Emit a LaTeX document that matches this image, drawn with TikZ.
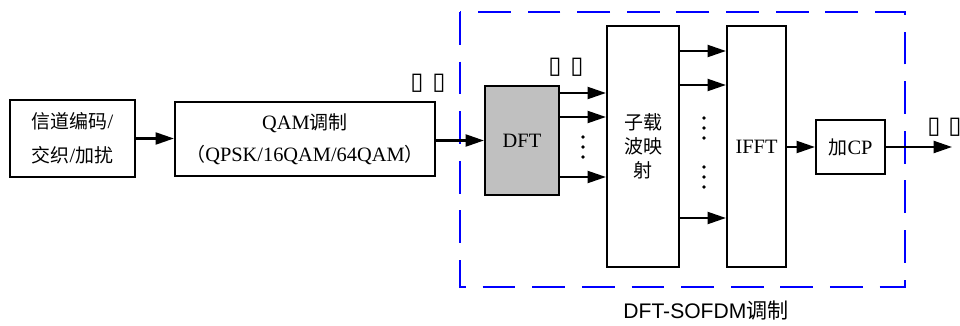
\documentclass[tikz,border=0pt]{standalone}
\usepackage{fontspec}
\usepackage{tikz}
\usetikzlibrary{positioning,arrows.meta,calc}
\setmainfont{Liberation Serif}
\newfontfamily\zhfont{Noto Sans CJK SC}[Scale=0.93]
\newfontfamily\zhsans{Noto Sans CJK SC}
\newfontfamily\lsans{Liberation Sans}
\newfontfamily\tofufont{DejaVu Sans}
\newcommand{\zh}[1]{{\zhfont #1}}
\newcommand{\tofu}{{\tofufont\fontsize{17}{17}\selectfont\char"25AF}}
\definecolor{BlockGray}{RGB}{192,192,192}
\definecolor{GroupBlue}{RGB}{0,0,255}

\begin{document}
\begin{tikzpicture}[x=0.025cm,y=-0.025cm,
blk/.style={draw,line width=1.5pt,align=center,inner sep=0pt,font=\fontsize{14.5}{17}\selectfont},
arr/.style={-{Triangle[length=4.6mm,width=3mm]},line width=1.6pt},
grp/.style={draw=GroupBlue,line width=1.4pt,dash pattern=on 0.82cm off 0.42cm},
lbl/.style={inner sep=0pt}
]
\useasboundingbox (0,0) rectangle (960,326);
% transmitter chain
\node[blk,minimum width=3.125cm,minimum height=1.925cm] (enc) at (72.5,138.5) {\zh{信道编码}/\\[7pt]\zh{交织}/\zh{加扰}};
\node[blk,minimum width=6.5cm,minimum height=1.85cm] (qam) at (305,139) {QAM\zh{调制}\\[6pt]\zh{（}QPSK/16QAM/64QAM\zh{）}};
\node[blk,fill=BlockGray,minimum width=1.85cm,minimum height=2.725cm] (dft) at (522,140.5) {DFT};
\node[blk,minimum width=1.8cm,minimum height=6.025cm] (map) at (643,146.5) {\zh{子载}\\\zh{波映}\\\zh{射}};
\node[blk,minimum width=1.475cm,minimum height=6.025cm] (ifft) at (756.5,146.5) {IFFT};
\node[blk,minimum width=1.725cm,minimum height=1.35cm] (cp) at (850.5,147) {\zh{加}CP};
\coordinate (out) at (952,147);
% DFT-SOFDM group
\draw[grp] (460,12) rectangle (905,287);
\node[font=\fontsize{15}{17}\selectfont] (grplbl) at (706,311) {\lsans DFT-SOFDM{\zhsans 调制}};
% connectors
\draw[arr] (enc) -- (enc.east -| qam.west);
\draw[arr] (qam.east |- dft) -- (dft);
\draw[arr] (dft.east |- 0,93) -- (map.west |- 0,93);
\draw[arr] (dft.east |- 0,117) -- (map.west |- 0,117);
\draw[arr] (dft.east |- 0,177) -- (map.west |- 0,177);
\draw[arr] (map.east |- 0,51) -- (ifft.west |- 0,51);
\draw[arr] (map.east |- 0,85) -- (ifft.west |- 0,85);
\draw[arr] (map.east |- 0,218) -- (ifft.west |- 0,218);
\draw[arr] (ifft.east |- cp) -- (cp);
\draw[arr] (cp) -- (out);
% dots
\foreach \y in {137,147,157} \fill (583,\y) circle (1.8);
\foreach \y in {118,128,138,167,177,187} \fill (704,\y) circle (1.8);
% glyph boxes
\node[lbl] (t1) at (417,83) {\tofu};
\node[lbl] (t2) at (439,83) {\tofu};
\node[lbl] (t3) at (555,67) {\tofu};
\node[lbl] (t4) at (577,67) {\tofu};
\node[lbl] (t5) at (934,127) {\tofu};
\node[lbl] (t6) at (955,127) {\tofu};
\end{tikzpicture}
\end{document}
